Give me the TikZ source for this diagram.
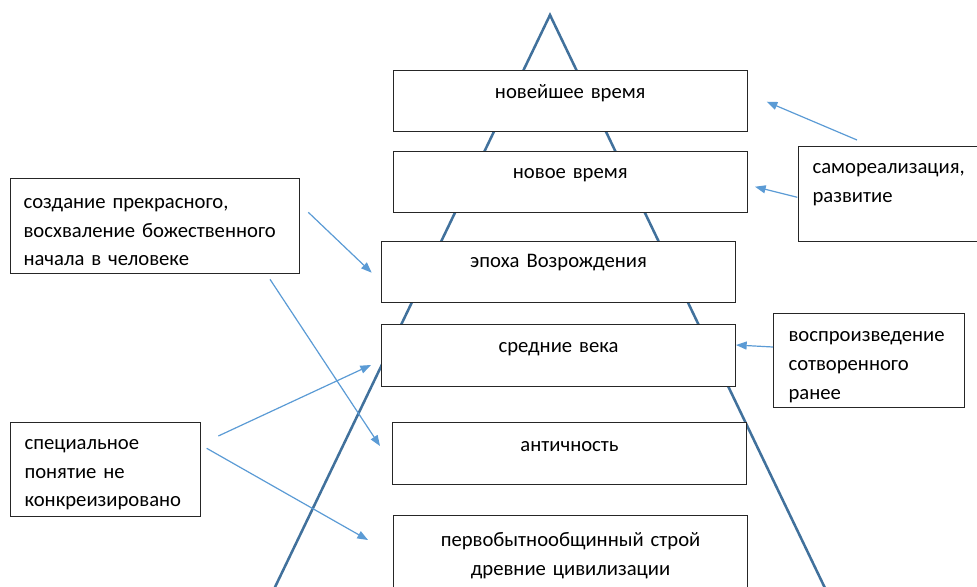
\documentclass[tikz,border=0pt]{standalone}
\usepackage{fontspec}
\setmainfont{Carlito}
\usetikzlibrary{arrows.meta}
\definecolor{TriBlue}{HTML}{41719C}
\definecolor{ArrBlue}{HTML}{5B9BD5}
\hyphenpenalty=10000

\begin{document}
\begin{tikzpicture}[x=0.75pt,y=-0.75pt]
  \tikzset{BoxStyle/.style={draw=black!85, line width=0.8pt, fill=white, anchor=north west,
      inner ysep=0pt, font=\fontsize{15.5}{21.5}\selectfont},
    EpochStyle/.style={BoxStyle, align=center, inner xsep=0pt, text width=265.5pt},
    NoteStyle/.style={BoxStyle, align=left},
    ArrowStyle/.style={ArrBlue, line width=0.9pt, -{Triangle[length=8pt,width=6pt]}}}
  \useasboundingbox (0,0) rectangle (977,586);
  % pyramid
  \draw[TriBlue, line width=1.9pt] (268.8,600) -- (550,15) -- (830.7,600);
  % epochs
  \node[EpochStyle, text height=21.4pt, text depth=24.7pt] (E1) at (392.7,69.5) {новейшее время};
  \node[EpochStyle, text height=20.3pt, text depth=25.7pt] (E2) at (392.7,150.7) {новое время};
  \node[EpochStyle, text height=19.5pt, text depth=26.3pt] (E3) at (381,240.7) {эпоха Возрождения};
  \node[EpochStyle, text height=20.8pt, text depth=25.7pt] (E4) at (381,324) {средние века};
  \node[EpochStyle, text height=21.5pt, text depth=24.8pt] (E5) at (392,422) {античность};
  \node[EpochStyle, text height=23.3pt, text depth=33pt] (E6) at (393,515) {первобытнообщинный строй\\ древние цивилизации};
  % notes
  \node[NoteStyle, inner xsep=9.75pt, text width=197.25pt, text height=22.3pt, text depth=49pt] (N1) at (10,178.3)
    {создание прекрасного,\\ восхваление божественного\\ начала в человеке};
  \node[NoteStyle, inner xsep=10.5pt, text width=121.5pt, text height=20.5pt, text depth=50.2pt] (N2) at (10,421.7)
    {специальное\\ понятие не\\ конкреизировано};
  \node[NoteStyle, inner xsep=10.5pt, text width=129pt, text height=20.5pt, text depth=50.8pt] (N3) at (798,145.7)
    {самореализация,\\ развитие};
  \node[NoteStyle, inner xsep=11.25pt, text width=120.75pt, text height=21pt, text depth=49.5pt] (N4) at (773,313.3)
    {воспроизведение\\ сотворенного\\ ранее};
  % arrow ends
  \coordinate (t1) at (857,140);     \coordinate (h1) at (766.7,101.7);
  \coordinate (t2) at (797.3,197.3); \coordinate (h2) at (755,186.7);
  \coordinate (t3) at (773,347);     \coordinate (h3) at (736,345);
  \coordinate (t4) at (308.3,212.3); \coordinate (h4) at (371.7,272.7);
  \coordinate (t5) at (270,279.3);   \coordinate (h5) at (380,446);
  \coordinate (t6) at (218.3,436);   \coordinate (h6) at (371,365);
  \coordinate (t7) at (206.7,448.3); \coordinate (h7) at (368,540);
  \foreach \i in {1,...,7}
    \draw[ArrowStyle] (t\i) -- (h\i);
\end{tikzpicture}
\end{document}
